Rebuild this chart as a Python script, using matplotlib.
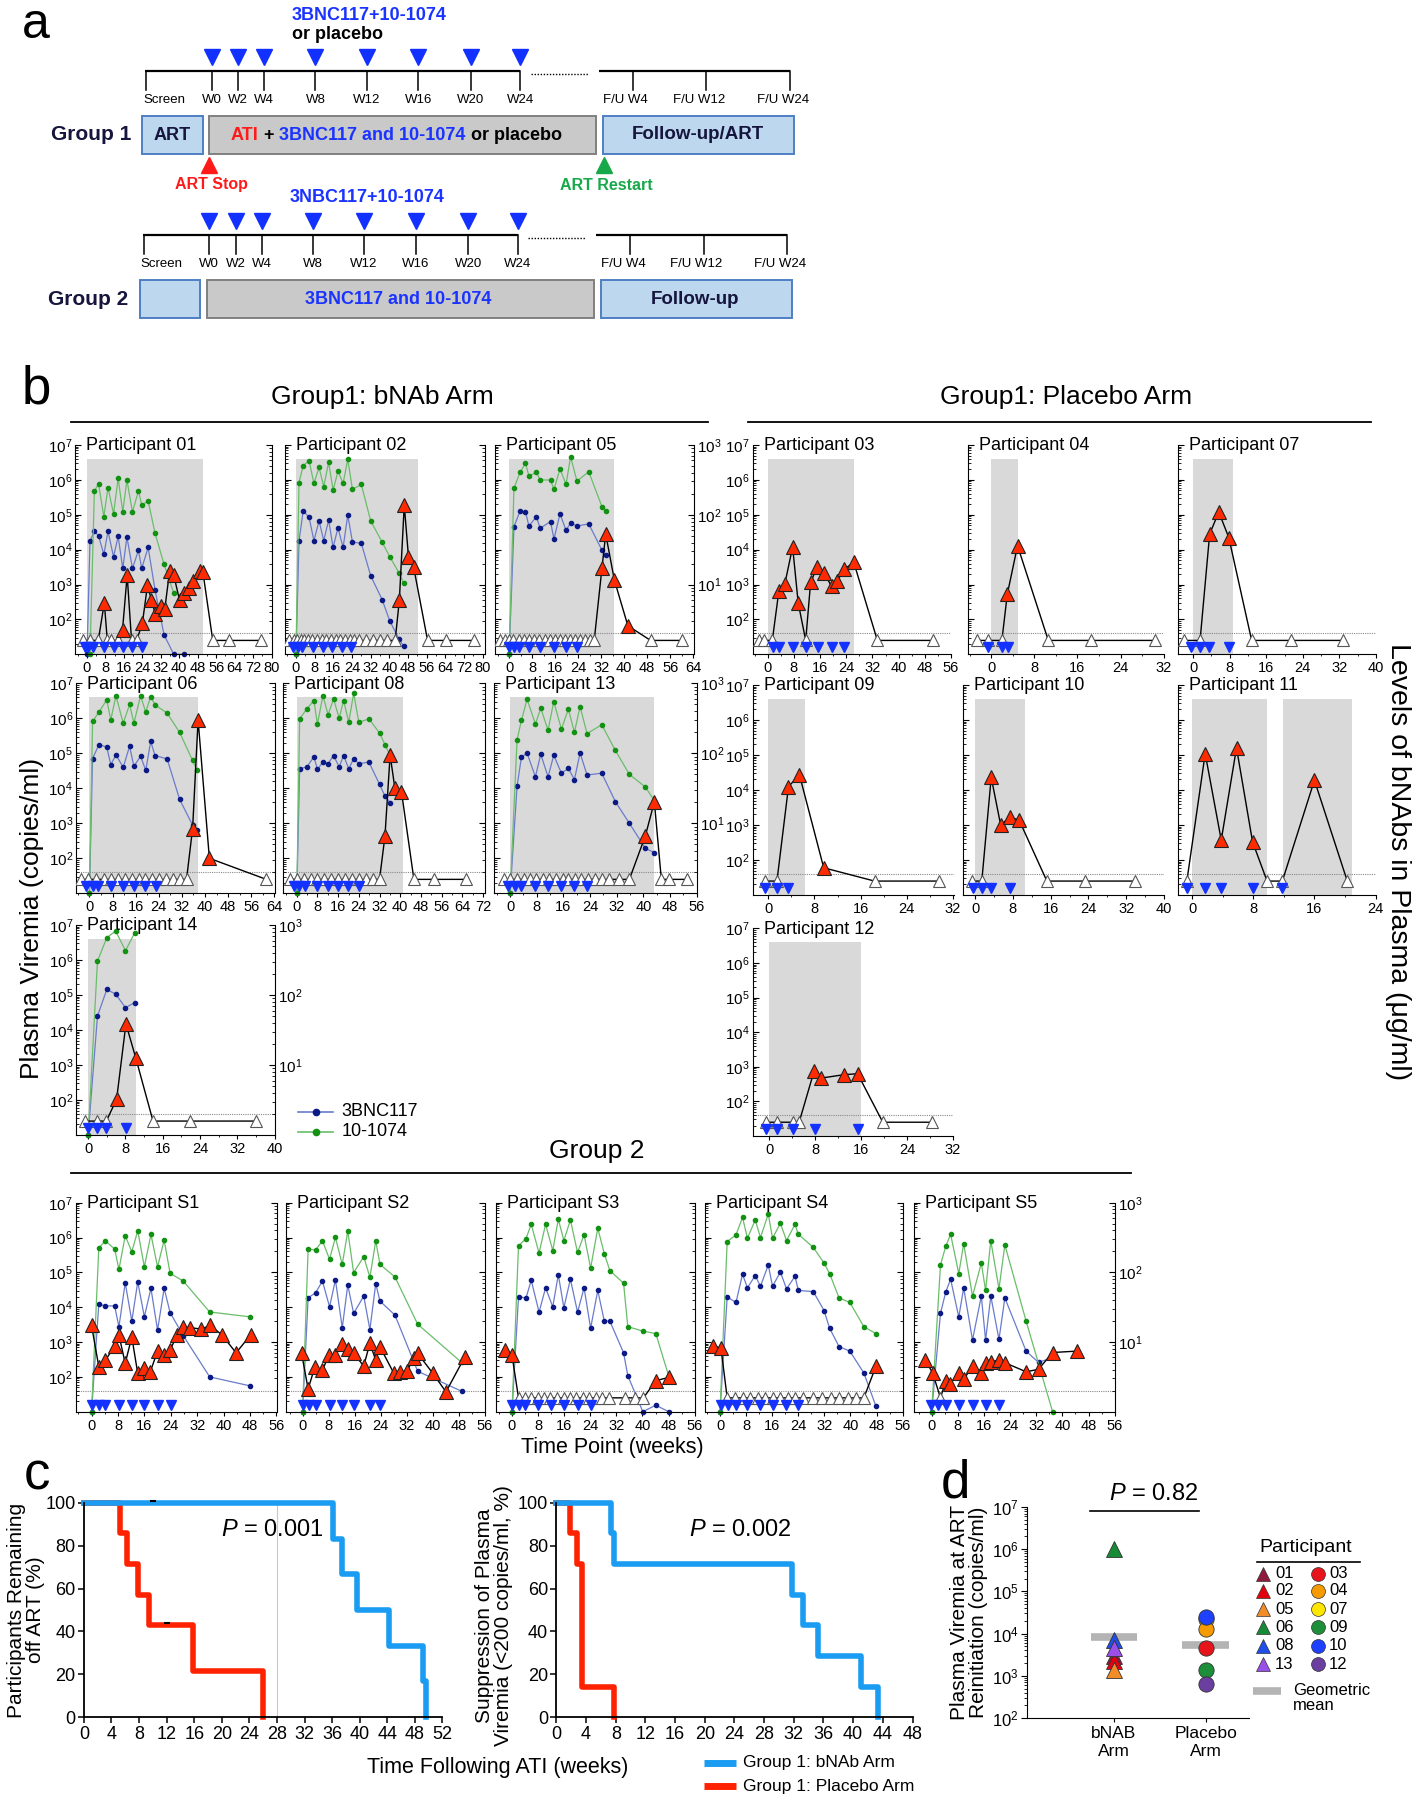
import numpy as np
import matplotlib.pyplot as plt
from matplotlib.ticker import FixedLocator, LogLocator, NullFormatter, MultipleLocator, FuncFormatter
from matplotlib.patches import Rectangle

plt.rcParams['font.family'] = ['Liberation Sans', 'DejaVu Sans']
plt.rcParams['mathtext.fontset'] = 'custom'
plt.rcParams['mathtext.rm'] = 'Liberation Sans'
plt.rcParams['mathtext.it'] = 'Liberation Sans:italic'
plt.rcParams['mathtext.bf'] = 'Liberation Sans:bold'

nan = np.nan

# ---------------- panel b data (weeks, copies/ml; 0 = undetectable) ----------------
# bNAb levels in ug/ml (3BNC117 / 10-1074)
p01_t = [-1.6, 1.3, 4.9, 7.5, 8.8, 10.6, 13.5, 15.4, 17.4, 19.3, 21.5, 24, 26.2, 27.9, 29.6, 31.9, 33.7, 35.8,
         37.6, 40.1, 41.9, 44.2, 45.9, 48.8, 50.2, 54.5, 61.7, 75.4]
p01_vl = [0, 0, 0, 300, 0, 0, 0, 51, 1860, 0, 0, 78, 940, 370, 140, 240, 195, 2450, 1860, 355, 560, 780, 1300,
          2500, 2350, 0, 0, 0]
p01_inf = [-1, 0.6, 2.7, 7.5, 11.7, 15.7, 19.7, 23.7]
p01_ati = [(0, 50.1)]
p01_bt = [0, 1.3, 3.2, 5.0, 7.3, 9.1, 11.5, 13.5, 15.5, 17.3, 19.7, 22.3, 23.7, 26.5, 29.5, 33.4, 37.6, 41.9]
p01_3bnc = [1, 42, 58, 50, 27, 58, 25, 49, 17, 48, 17, 31, 17, 34, 8.3, 1.9, 1, 1]
p01_10 = [nan, 1, 219, 276, 94, 245, 103, 333, 110, 315, 110, 219, 138, 158, 54, 19.5, 7.5, nan]

p02_t = [-3, -1, 0.5, 2, 3.5, 5, 7, 9, 11, 13, 15, 17, 19, 21, 23, 25, 27, 30, 33, 36, 39, 42.5, 44.3, 46.4,
         48.2, 50.4, 56.4, 64.4, 76.5]
p02_vl = [0, 0, 0, 0, 0, 0, 0, 0, 0, 0, 0, 0, 0, 0, 0, 0, 0, 0, 0, 0, 0, 0, 355, 190000, 6300, 3200, 0, 0, 0]
p02_inf = [-1.1, 1.0, 2.4, 7.4, 11.4, 15.6, 19.7, 23.7]
p02_ati = [(0, 52.2)]
p02_bt = [0, 1.3, 3.1, 5.6, 7.7, 9.9, 11.9, 14.0, 15.9, 18.0, 20.2, 22.2, 24.2, 28.0, 32.0, 36.9, 40.2, 44.2, 46.2]
p02_3bnc = [1, 42, 114, 92, 42.5, 82, 42.5, 84, 34, 65, 34, 99, 40.6, 39, 13.4, 6.1, 3.0, 1.65, 1.3]
p02_10 = [1, 290, 505, 595, 282, 478, 253, 565, 226, 419, 282, 623, 231, 272, 82, 40.6, 25, 14.6, 10.4]

p05_t = [-3.1, -1.4, 0, 1.5, 3.6, 5.3, 6.9, 8.7, 10.5, 12.5, 14.2, 15.9, 17.7, 19.4, 21.2, 22.9, 24.7, 26.4,
         28.1, 29.6, 32.3, 33.6, 36.6, 41.3, 49.2, 60.3]
p05_vl = [0, 0, 0, 0, 0, 0, 0, 0, 0, 0, 0, 0, 0, 0, 0, 0, 0, 0, 0, 0, 3000, 28000, 1350, 66, 0, 0]
p05_inf = [0, 1.7, 3.6, 6.9, 10.8, 15.7, 19.8, 23.7]
p05_ati = [(0, 36.6)]
p05_bt = [0, 1.7, 3.8, 5.7, 6.9, 9.5, 10.8, 14.4, 15.6, 17.7, 19.8, 21.4, 23.6, 27.7, 32.3, 33.6]
p05_3bnc = [1, 67.5, 113, 110, 69, 94, 64, 80, 45, 103, 60, 76, 69, 74, 31, 26.5]
p05_10 = [1, 240, 405, 546, 359, 405, 315, 315, 231, 453, 273, 680, 304, 414, 130, 113]

p03_t = [-2.7, -1.0, 1.4, 3.4, 5.2, 7.6, 9.3, 11.6, 13.1, 15.1, 17.2, 19.5, 21.3, 23.2, 26.3, 33.5, 50.5]
p03_vl = [0, 0, 0, 660, 1020, 12000, 300, 0, 1150, 3200, 2200, 880, 1260, 2700, 4300, 0, 0]
p03_inf = [1.5, 3.5, 7.6, 11.6, 15.4, 19.5, 23.2]
p03_ati = [(0, 26.3)]

p04_t = [-2.6, -0.6, 2.0, 3.0, 4.9, 10.6, 18.5, 30.3]
p04_vl = [0, 0, 0, 525, 13000, 0, 0, 0]
p04_inf = [-0.5, 2.0, 3.1]
p04_ati = [(0, 4.9)]

p07_t = [-2.0, 1.5, 3.6, 5.6, 7.8, 12.8, 21.5, 32.7]
p07_vl = [0, 0, 28000, 120000, 22000, 0, 0, 0]
p07_inf = [-0.5, 1.5, 3.4, 7.8]
p07_ati = [(0, 8.8)]

p06_t = [-2.9, -0.5, 2.2, 5.1, 7.4, 9.8, 12.2, 14.6, 17.0, 19.3, 21.7, 24.1, 26.5, 28.8, 31.2, 33.6, 35.7,
         37.6, 41.5, 61.2]
p06_vl = [0, 0, 0, 0, 0, 0, 0, 0, 0, 0, 0, 0, 0, 0, 0, 0, 710, 900000, 100, 0]
p06_inf = [-1.3, 1.1, 3.0, 7.4, 11.7, 15.4, 19.3, 23.0]
p06_ati = [(0, 37.6)]
p06_bt = [0, 1.1, 3.3, 6.0, 7.4, 9.2, 11.7, 13.9, 15.4, 17.7, 19.5, 21.2, 22.7, 26.9, 31.2, 35.7, 37.2]
p06_3bnc = [1, 84, 133, 123, 69, 95, 63, 126, 65, 91, 57, 148, 93, 83, 22, 9.4, 8.0]
p06_10 = [1, 285, 387, 580, 301, 661, 270, 498, 270, 661, 387, 647, 492, 375, 199, 79, 57]

p08_t = [-2.7, 0, 2.7, 5.3, 8, 10.7, 13.3, 16, 18.7, 21.3, 24, 26.7, 29.3, 32, 34.1, 36.1, 37.9, 40.5, 45.3,
         53, 65.4]
p08_vl = [0, 0, 0, 0, 0, 0, 0, 0, 0, 0, 0, 0, 0, 0, 430, 89000, 10500, 7900, 0, 0, 0]
p08_inf = [-0.9, 0.9, 3.2, 8.0, 12.1, 16.0, 19.9, 24.0]
p08_ati = [(0, 41.2)]
p08_bt = [0, 1.1, 3.9, 6.6, 8.0, 10.1, 12.1, 14.2, 16.4, 18.1, 20.1, 22.0, 24.0, 27.9, 32.0, 34.1, 36.1]
p08_3bnc = [1, 60, 64, 89, 59, 75, 71, 93, 64, 93, 60, 84, 71, 75, 36, 24.5, 19.8]
p08_10 = [1, 311, 432, 567, 262, 668, 355, 598, 318, 567, 279, 721, 276, 311, 195, 133, 93]

p13_t = [-1.8, 0, 2.1, 4.1, 5.9, 7.8, 9.9, 11.7, 13.8, 15.8, 17.5, 19.5, 21.3, 23.4, 25.4, 27.5, 29.8, 32.6,
         35.8, 40.6, 43.3, 45.4, 47.7, 53.2]
p13_vl = [0, 0, 0, 0, 0, 0, 0, 0, 0, 0, 0, 0, 0, 0, 0, 0, 0, 0, 0, 440, 4100, 0, 0, 0]
p13_inf = [-0.7, 1.4, 3.4, 7.6, 11.4, 15.4, 19.3, 23.1]
p13_ati = [(0, 43.3)]
p13_bt = [0, 2.1, 3.4, 5.1, 7.6, 9.2, 11.4, 13.1, 15.4, 17.5, 19.3, 21.0, 23.1, 27.5, 31.6, 35.8, 40.6, 43.3]
p13_3bnc = [1, 34, 88, 101, 46, 97, 46, 94, 52, 61, 42, 101, 49, 52, 20.4, 10, 4.4, 3.8]
p13_10 = [1, 157, 295, 592, 262, 441, 213, 549, 222, 427, 199, 466, 191, 256, 110, 50, 33, 21]

p09_t = [-0.5, 1.5, 3.5, 5.4, 9.6, 18.4, 29.5]
p09_vl = [0, 0, 12500, 27000, 60, 0, 0]
p09_inf = [-0.5, 1.5, 3.5]
p09_ati = [(0, 6.3)]

p10_t = [-0.7, 1.4, 3.4, 5.4, 7.3, 9.3, 15.2, 23.2, 33.8]
p10_vl = [0, 0, 23000, 1000, 1650, 1400, 0, 0, 0]
p10_inf = [-0.5, 1.4, 3.4, 7.3]
p10_ati = [(0, 10.5)]

p11_t = [-0.7, 1.7, 3.8, 5.8, 7.9, 9.8, 11.8, 16.0, 20.3]
p11_vl = [0, 110000, 370, 160000, 330, 0, 0, 19000, 0]
p11_inf = [-0.7, 1.7, 3.8, 7.9, 11.8]
p11_ati = [(0, 9.8), (11.9, 20.9)]

p14_t = [-0.6, 2.0, 3.9, 6.1, 8.1, 10.2, 13.9, 21.9, 35.9]
p14_vl = [0, 0, 0, 105, 15000, 1600, 0, 0, 0]
p14_inf = [0, 2.0, 3.9, 8.1]
p14_ati = [(0, 10.3)]
p14_bt = [0, 2.0, 4.0, 5.9, 8.0, 10.0]
p14_3bnc = [1, 50, 120, 103, 66, 78]
p14_10 = [1, 305, 659, 820, 430, 776]

p12_t = [-0.6, 1.4, 4.2, 5.2, 7.8, 9.0, 13.0, 15.4, 19.8, 28.4]
p12_vl = [0, 0, 0, 0, 740, 470, 590, 630, 0, 0]
p12_inf = [-0.6, 1.4, 4.2, 7.9, 15.4]
p12_ati = [(0, 16.0)]

s1_t = [0, 2.2, 4.2, 7.0, 8.3, 10.2, 12.2, 14.0, 16.0, 17.8, 20.0, 22.0, 23.8, 25.9, 27.8, 29.8, 33.2, 36.0,
        39.5, 43.8, 48.2]
s1_vl = [3000, 195, 300, 760, 1580, 245, 1400, 125, 183, 140, 550, 420, 585, 1580, 2700, 2600, 2350, 3000,
         1600, 490, 1600]
s1_inf = [0, 2.2, 4.2, 8.3, 12.3, 16.0, 20.0, 24.0]
s1_bt = [0, 2.2, 4.2, 7.0, 8.3, 10.2, 12.2, 14.0, 16.0, 18.0, 20.0, 22.0, 23.8, 27.8, 35.8, 48.0]
s1_3bnc = [1, 35, 33, 33, 16.5, 71, 20, 73, 23, 59, 14.8, 59, 26.5, 12.3, 3.16, 2.35]
s1_10 = [1, 225, 284, 216, 110, 336, 198, 396, 120, 351, 120, 291, 97, 75, 27, 23]

s2_t = [-0.3, 1.7, 3.8, 6.1, 8.1, 10.1, 12.2, 13.9, 15.7, 18.8, 20.7, 22.5, 23.8, 28.1, 29.9, 32.1, 34.2,
        35.4, 40.1, 44.1, 49.9]
s2_vl = [470, 45, 195, 155, 420, 420, 870, 650, 470, 205, 920, 300, 730, 125, 140, 145, 350, 470, 125, 37, 375]
s2_inf = [0, 1.9, 4.0, 8.3, 12.2, 15.9, 20.7, 23.8]
s2_bt = [0, 1.7, 4.0, 6.1, 8.3, 10.1, 12.2, 13.9, 15.7, 18.8, 20.7, 22.5, 23.8, 28.4, 35.4, 48.9]
s2_3bnc = [1, 43, 51, 75, 32, 78, 16, 66, 25.7, 45.6, 15.1, 69, 38.7, 24.4, 3.8, 1.97]
s2_10 = [1, 216, 209, 283, 154, 318, 130, 392, 99, 168, 85, 283, 130, 86, 18, 5.1]

s3_t = [-2.0, 0, 2.0, 3.9, 5.9, 7.9, 9.9, 11.8, 13.8, 15.8, 17.8, 19.7, 21.7, 23.7, 25.7, 27.6, 29.7, 34.6,
        37.6, 40.3, 44.1, 48.0]
s3_vl = [575, 420, 0, 0, 0, 0, 0, 0, 0, 0, 0, 0, 0, 0, 0, 0, 0, 0, 0, 0, 78, 96]
s3_inf = [0, 2.0, 3.9, 7.9, 12.0, 15.9, 20.1, 24.1]
s3_bt = [0, 2.0, 4.3, 5.9, 8.3, 10.3, 12.5, 14.2, 15.9, 17.9, 20.1, 22.1, 24.1, 26.3, 28.3, 30.0, 34.2, 35.5,
         40.1, 44.1, 48.0]
s3_3bnc = [1, 44.5, 43, 77, 26.8, 60, 32, 93, 31, 80, 26.8, 60, 15.8, 55, 20, 20, 7.0, 3.3, 1, 1.24, 1]
s3_10 = [1, 240, 306, 490, 189, 490, 206, 578, 286, 565, 193, 346, 115, 430, 185, 106, 70, 16.6, 14.4, 13.2, 3.3]

s4_t = [-2.0, 0.3, 2.2, 4.6, 6.9, 9.2, 11.5, 13.9, 16.1, 18.5, 20.7, 23.0, 25.3, 28.6, 31.3, 33.9, 36.5, 39.2,
        41.8, 44.1, 47.8]
s4_vl = [775, 665, 0, 0, 0, 0, 0, 0, 0, 0, 0, 0, 0, 0, 0, 0, 0, 0, 0, 0, 200]
s4_inf = [0.3, 2.5, 4.9, 8.4, 12.4, 16.1, 20.3, 24.0]
s4_bt = [0, 2.2, 4.9, 6.9, 8.4, 10.8, 12.4, 14.8, 16.1, 18.5, 20.4, 23.0, 24.0, 28.6, 31.9, 33.6, 36.5, 39.8,
         44.1, 47.8]
s4_3bnc = [1, 44.5, 37, 94, 60, 90, 63, 128, 63, 101, 58, 88, 55, 53, 28.3, 15.8, 8.6, 7.4, 3.6, 1.2]
s4_10 = [1, 277, 345, 617, 309, 565, 316, 689, 309, 506, 286, 490, 353, 228, 136, 96, 43, 37, 16.6, 13.2]

s5_t = [-2.0, 0.3, 2.7, 4.3, 5.6, 8.3, 9.8, 12.5, 15.2, 16.5, 18.1, 20.6, 22.4, 28.9, 32.7, 37.0, 44.6]
s5_vl = [310, 130, 0, 74, 62, 130, 85, 200, 129, 255, 275, 300, 255, 140, 165, 500, 550]
s5_inf = [-0.3, 2.0, 4.3, 8.5, 12.5, 16.5, 20.6]
s5_bt = [0, 2.7, 4.3, 5.8, 8.3, 9.8, 12.5, 15.2, 16.5, 18.1, 20.6, 22.4, 28.9, 32.7, 37.0]
s5_3bnc = [1, 25.7, 52, 80, 22.8, 60, 10.7, 45.6, 10.7, 45.6, 10.9, 43, 7.4, 5.1, 6.0]
s5_10 = [1, 128, 236, 353, 96, 257, 45.6, 136, 55, 284, 58, 248, 20, nan, 1]

# ---------------- panel c data (Kaplan-Meier steps) ----------------
km1_bnab_t = [0, 36.2, 37.5, 39.6, 44.2, 49.2, 49.6]
km1_bnab_s = [100, 83.3, 66.7, 50, 33.3, 16.7, 0]
km1_pla_t = [0, 5.2, 6.3, 7.8, 9.4, 15.8, 26.0]
km1_pla_s = [100, 85.7, 71.4, 57.1, 42.9, 21.4, 0]
km1_censor = [(10, 100), (12, 42.9)]
km2_bnab_t = [0, 7.3, 7.8, 31.8, 33.3, 35.3, 41.0, 43.4]
km2_bnab_s = [100, 85.7, 71.4, 57.1, 42.9, 28.6, 14.3, 0]
km2_pla_t = [0, 1.8, 2.8, 3.4, 7.8]
km2_pla_s = [100, 85.7, 71.4, 14.3, 0]

# ---------------- panel d data ----------------
d_bnab_ids = ['01', '02', '05', '06', '08', '13']
d_bnab_vl = [3000, 2200, 1400, 1000000, 7000, 4500]
d_bnab_col = ['#8e1b3c', '#e3000f', '#f28c28', '#178a36', '#1f4ee8', '#9a4fe8']
d_pla_ids = ['03', '04', '07', '09', '10', '12']
d_pla_vl = [4500, 13000, 22000, 1400, 25000, 650]
d_pla_col = ['#e8141c', '#f59a00', '#ffe600', '#1d8f3a', '#1e40ff', '#6b3fa0']
d_gmean = [8500, 5500]

# ---------------- figure ----------------
W, H = 1414, 1800
fig = plt.figure(figsize=(W / 100, H / 100), dpi=100)
ov = fig.add_axes([0, 0, 1, 1])
ov.set_xlim(0, W)
ov.set_ylim(H, 0)
ov.axis('off')
ov.set_zorder(5)


def px_axes(x0, y0, x1, y1):
    return fig.add_axes([x0 / W, 1 - y1 / H, (x1 - x0) / W, (y1 - y0) / H])


def pow_fmt(v, pos):
    return r'$10^{%d}$' % round(np.log10(v))


BLUE_TXT = '#1a33ff'
NAVY = '#15153d'

# ---------------- panel a ----------------
ov.text(22, 37.5, 'a', fontsize=36, va='baseline')
wk_lab = ['Screen', 'W0', 'W2', 'W4', 'W8', 'W12', 'W16', 'W20', 'W24']
fu_lab = ['F/U W4', 'F/U W12', 'F/U W24']
wk_x = [146.4, 211.8, 238.0, 264.1, 315.4, 366.6, 418.4, 470.7, 520.4]
fu_x = [632.8, 706.0, 789.7]
for g, (dy, dx) in enumerate([(0, 0), (164.3, -2.5)]):
    yl = 70.7 + dy
    ov.plot([wk_x[0] - 1 + dx, wk_x[-1] + dx], [yl, yl], color='k', lw=1.6, solid_capstyle='butt')
    ov.plot([530.9 + dx, 588.4 + dx], [yl + 3, yl + 3], color='k', lw=1.0, ls=(0, (1, 1.2)))
    ov.plot([598.8 + dx, fu_x[-1] + dx], [yl, yl], color='k', lw=1.6, solid_capstyle='butt')
    for x, lab in zip(wk_x + fu_x, wk_lab + fu_lab):
        ov.plot([x + dx, x + dx], [yl, yl + 19.3], color='k', lw=1.1)
        ov.text(x + dx + (18 if lab == 'Screen' else 0) - (7 if lab.startswith('F/U') else 0), yl + 29, lab,
                fontsize=9.5, ha='center', va='center')
    ov.plot([x + dx for x in wk_x[1:]], [yl - 14] * 8, 'v', color='#1230ff', ms=12, mec='#1230ff')
    yb0, yb1 = 115.7 + dy, 154 + dy
    ov.add_patch(Rectangle((142.3 + dx, yb0), 60.6, yb1 - yb0, fc='#bdd7ee', ec='#4f7fc4', lw=1.4))
    ov.add_patch(Rectangle((209.2 + dx, yb0), 387, yb1 - yb0, fc='#c9c9c9', ec='#808080', lw=1.4))
    ov.add_patch(Rectangle((603 + dx, yb0), 191, yb1 - yb0, fc='#bdd7ee', ec='#4f7fc4', lw=1.4))
    ym = (yb0 + yb1) / 2
    ov.text(91 + dx, ym, 'Group %d' % (g + 1), fontsize=15, fontweight='bold', color=NAVY, ha='center',
            va='center')
    ov.text(698 + dx, ym, 'Follow-up/ART' if g == 0 else 'Follow-up', fontsize=13.5, fontweight='bold',
            color=NAVY, ha='center', va='center')

ov.text(291.8, 15, '3BNC117+10-1074', fontsize=13, fontweight='bold', color=BLUE_TXT, va='center')
ov.text(291.8, 34.3, 'or placebo', fontsize=13, fontweight='bold', color='k', va='center')
ov.text(289.3, 197.3, '3NBC117+10-1074', fontsize=13, fontweight='bold', color=BLUE_TXT, va='center')
ov.text(172.6, 135, 'ART', fontsize=13, fontweight='bold', color=NAVY, ha='center', va='center')
ov.text(398.5, 299, '3BNC117 and 10-1074', fontsize=13, fontweight='bold', color=BLUE_TXT, ha='center',
        va='center')

parts = [('ATI', '#ff1a1a'), (' + ', 'k'), ('3BNC117 and 10-1074', BLUE_TXT), (' or placebo', 'k')]
t = ov.text(231, 135, parts[0][0], color=parts[0][1], fontsize=13, fontweight='bold', va='center')
for s, c in parts[1:]:
    t = ov.annotate(s, xy=(1, 0), xycoords=t, va='bottom', ha='left', color=c, fontsize=13,
                    fontweight='bold')

ov.plot(209.2, 165, '^', color='#ff1a1a', ms=12)
ov.text(211.8, 185, 'ART Stop', color='#ff1a1a', fontsize=11.5, fontweight='bold', ha='center', va='center')
ov.plot(604, 165, '^', color='#17a84a', ms=12)
ov.text(606.7, 185, 'ART Restart', color='#17a84a', fontsize=11.5, fontweight='bold', ha='center',
        va='center')

# ---------------- panel b ----------------
UNDET, INF_Y, LOD, ATI_TOP = 25, 16, 40, 4e6


def viremia_panel(box, xlim, title, t, vl, inf, ati, bt=None, b3=None, b10=None,
                  left_lab=True, right=False, right_lab=False):
    x0, y0, x1, y1 = box
    ax = px_axes(*box)
    ax.set_yscale('log')
    ax.set_ylim(10, 1e7)
    ax.set_xlim(*xlim)
    for a, b in ati:
        ax.fill_between([a, b], 10, ATI_TOP, color='#d9d9d9', lw=0, zorder=0)
    ax.axhline(LOD, color='#8a8a8a', lw=0.8, ls=(0, (1, 1)), zorder=1)
    if bt is not None:
        tt = np.asarray(bt, float)
        for vals, lc, mc in ((b3, '#6a7bcc', '#0b1985'), (b10, '#6abd6a', '#129112')):
            vv = np.asarray(vals, float)
            m = ~np.isnan(vv)
            ax.plot(tt[m], 10 * vv[m] ** 2, '-o', color=lc, lw=0.9, ms=3, mfc=mc, mec=mc,
                    clip_on=False, zorder=2)
    tv = np.asarray(t, float)
    v = np.asarray(vl, float)
    y = np.where(v > 0, v, UNDET)
    det = v > 0
    ax.plot(tv, y, color='k', lw=1.0, zorder=3)
    ax.plot(tv[~det], y[~det], '^', ms=8.5, mfc='white', mec='#555555', mew=0.8, zorder=4, ls='none')
    ax.plot(tv[det], y[det], '^', ms=9.5, mfc='#ff2a00', mec='#222222', mew=0.8, zorder=5, ls='none')
    ax.plot(inf, [INF_Y] * len(inf), 'v', ms=6.5, color='#1432ff', zorder=4, ls='none')

    ax.spines['top'].set_visible(False)
    ax.spines['right'].set_visible(False)
    ax.yaxis.set_major_locator(FixedLocator([1e2, 1e3, 1e4, 1e5, 1e6, 1e7]))
    ax.yaxis.set_minor_locator(LogLocator(base=10, subs=np.arange(2, 10), numticks=20))
    ax.yaxis.set_major_formatter(FuncFormatter(pow_fmt))
    ax.yaxis.set_minor_formatter(NullFormatter())
    ax.xaxis.set_major_locator(MultipleLocator(8))
    ax.xaxis.set_minor_locator(MultipleLocator(4))
    ax.tick_params(axis='y', which='major', direction='in', length=4, width=0.8, labelsize=11,
                   labelleft=left_lab, pad=2)
    ax.tick_params(axis='y', which='minor', direction='in', length=2, width=0.6)
    ax.tick_params(axis='x', which='major', direction='out', length=3, width=0.8, labelsize=10.5, pad=2)
    ax.tick_params(axis='x', which='minor', direction='out', length=1.5, width=0.6)
    if right:
        tw = ax.twinx()
        tw.set_yscale('log')
        tw.set_ylim(1, 1000)
        tw.yaxis.set_major_locator(FixedLocator([10, 100, 1000]))
        tw.yaxis.set_minor_locator(LogLocator(base=10, subs=np.arange(2, 10), numticks=20))
        tw.yaxis.set_major_formatter(FuncFormatter(pow_fmt))
        tw.yaxis.set_minor_formatter(NullFormatter())
        tw.tick_params(axis='y', which='major', direction='in', length=4, width=0.8, labelsize=11,
                       labelright=right_lab, pad=2)
        tw.tick_params(axis='y', which='minor', direction='in', length=2, width=0.6)
        for s in ('top', 'left', 'bottom'):
            tw.spines[s].set_visible(False)
    ov.text(x0 + 11, y0 + 1, title, fontsize=13, ha='left', va='center')
    return ax


panels = [
    ((75, 445, 272.3, 654.3), (-5.2, 80.3), '01', p01_t, p01_vl, p01_inf, p01_ati, p01_bt, p01_3bnc, p01_10, True, False),
    ((285, 445, 485, 654.3), (-4.7, 81), '02', p02_t, p02_vl, p02_inf, p02_ati, p02_bt, p02_3bnc, p02_10, False, False),
    ((495, 445, 694, 654.3), (-4.9, 64.3), '05', p05_t, p05_vl, p05_inf, p05_ati, p05_bt, p05_3bnc, p05_10, False, True),
    ((752.7, 445, 951.3, 654.3), (-4.6, 56.1), '03', p03_t, p03_vl, p03_inf, p03_ati, None, None, None, True, False),
    ((967.9, 445, 1164.3, 654.3), (-4.3, 32.1), '04', p04_t, p04_vl, p04_inf, p04_ati, None, None, None, False, False),
    ((1177.7, 445, 1376.3, 654.3), (-3.4, 40.1), '07', p07_t, p07_vl, p07_inf, p07_ati, None, None, None, False, False),
    ((75.8, 683.3, 275, 893.3), (-4.7, 64.2), '06', p06_t, p06_vl, p06_inf, p06_ati, p06_bt, p06_3bnc, p06_10, True, False),
    ((283.1, 683.3, 485, 893.3), (-5.3, 72.8), '08', p08_t, p08_vl, p08_inf, p08_ati, p08_bt, p08_3bnc, p08_10, False, False),
    ((494.1, 683.3, 697, 893.3), (-4.8, 56.1), '13', p13_t, p13_vl, p13_inf, p13_ati, p13_bt, p13_3bnc, p13_10, False, True),
    ((752.7, 685, 953.6, 895), (-2.7, 32.1), '09', p09_t, p09_vl, p09_inf, p09_ati, None, None, None, True, False),
    ((963.4, 685, 1164.3, 895), (-2.5, 40.1), '10', p10_t, p10_vl, p10_inf, p10_ati, None, None, None, False, False),
    ((1177.7, 685, 1376.3, 895), (-1.9, 24.1), '11', p11_t, p11_vl, p11_inf, p11_ati, None, None, None, False, False),
    ((76, 925, 275.3, 1135), (-2.6, 40.1), '14', p14_t, p14_vl, p14_inf, p14_ati, p14_bt, p14_3bnc, p14_10, True, True),
    ((752.7, 928.3, 953.3, 1136), (-2.9, 32.1), '12', p12_t, p12_vl, p12_inf, p12_ati, None, None, None, True, False),
    ((75.7, 1202.7, 276.7, 1411.7), (-4.8, 56.1), 'S1', s1_t, s1_vl, s1_inf, [], s1_bt, s1_3bnc, s1_10, True, False),
    ((286, 1202.7, 485, 1411.7), (-5.1, 56.1), 'S2', s2_t, s2_vl, s2_inf, [], s2_bt, s2_3bnc, s2_10, False, False),
    ((496, 1202.7, 695, 1411.7), (-4.9, 56.1), 'S3', s3_t, s3_vl, s3_inf, [], s3_bt, s3_3bnc, s3_10, False, False),
    ((705, 1202.7, 903, 1411.7), (-4.6, 56.1), 'S4', s4_t, s4_vl, s4_inf, [], s4_bt, s4_3bnc, s4_10, False, False),
    ((914, 1202.7, 1115, 1411.7), (-5.4, 56.1), 'S5', s5_t, s5_vl, s5_inf, [], s5_bt, s5_3bnc, s5_10, False, True),
]
for box, xl, pid, t_, vl_, inf_, ati_, bt_, b3_, b10_, ll, rl in panels:
    viremia_panel(box, xl, 'Participant ' + pid, t_, vl_, inf_, ati_, bt_, b3_, b10_,
                  left_lab=ll, right=bt_ is not None, right_lab=rl)

ov.text(22, 404, 'b', fontsize=38, va='baseline')
ov.text(382, 397, 'Group1: bNAb Arm', fontsize=19, ha='center', va='center')
ov.plot([71, 708], [422, 422], color='k', lw=1.3)
ov.text(1066, 397, 'Group1: Placebo Arm', fontsize=19, ha='center', va='center')
ov.plot([748, 1371], [422, 422], color='k', lw=1.3)
ov.text(597, 1151, 'Group 2', fontsize=19, ha='center', va='center')
ov.plot([71, 1131], [1173, 1173], color='k', lw=1.3)
ov.text(32, 918, 'Plasma Viremia (copies/ml)', fontsize=19, rotation=90, ha='center', va='center')
ov.text(1398, 862, 'Levels of bNAbs in Plasma (\u03bcg/ml)', fontsize=20.5, rotation=270, ha='center',
        va='center')
ov.text(612, 1448, 'Time Point (weeks)', fontsize=15.5, ha='center', va='center')
for yy, lc, mc, lab in ((1112, '#6a7bcc', '#0b1985', '3BNC117'), (1132, '#6abd6a', '#129112', '10-1074')):
    ov.plot([298, 333], [yy, yy], color=lc, lw=1.2)
    ov.plot(316, yy, 'o', color=mc, ms=4.5)
    ov.text(341.7, yy, lab, fontsize=13, va='center')

# ---------------- panel c ----------------
KM_BLUE, KM_RED = '#1a9cf2', '#ff2200'


def km_axes(box, xmax):
    ax = px_axes(*box)
    ax.set_xlim(0, xmax)
    ax.set_ylim(0, 100)
    ax.spines['top'].set_visible(False)
    ax.spines['right'].set_visible(False)
    ax.spines['left'].set_linewidth(1.3)
    ax.spines['bottom'].set_linewidth(1.3)
    ax.xaxis.set_major_locator(MultipleLocator(4))
    ax.yaxis.set_major_locator(MultipleLocator(20))
    ax.tick_params(labelsize=13, direction='out', length=4, width=1.1, pad=2)
    return ax


axc1 = km_axes((83.9, 1502.7, 442.4, 1717.3), 52)
axc1.axvline(28, color='#c8c8c8', lw=0.8, zorder=0)
axc1.plot(km1_pla_t, km1_pla_s, drawstyle='steps-post', color=KM_RED, lw=4, clip_on=False)
axc1.plot(km1_bnab_t, km1_bnab_s, drawstyle='steps-post', color=KM_BLUE, lw=4, clip_on=False)
for cx, cy in km1_censor:
    axc1.plot(cx, cy + 1, marker='_', color='k', ms=4, mew=1.5, clip_on=False)

axc2 = km_axes((556.4, 1502.7, 912.5, 1717.3), 48)
axc2.plot(km2_pla_t, km2_pla_s, drawstyle='steps-post', color=KM_RED, lw=4, clip_on=False)
axc2.plot(km2_bnab_t, km2_bnab_s, drawstyle='steps-post', color=KM_BLUE, lw=4, clip_on=False)

ov.text(26, 1610, 'Participants Remaining\noff ART (%)', fontsize=15, rotation=90, ha='center',
        va='center', multialignment='center', linespacing=1.05)
ov.text(494, 1616, 'Suppression of Plasma\nViremia (<200 copies/ml, %)', fontsize=15, rotation=90,
        ha='center', va='center', multialignment='center', linespacing=1.05)
ov.text(24, 1490, 'c', fontsize=38, va='baseline')
ov.text(272.8, 1530, r'$P$ = 0.001', fontsize=17, ha='center', va='center')
ov.text(740, 1530, r'$P$ = 0.002', fontsize=17, ha='center', va='center')
ov.text(497.6, 1768, 'Time Following ATI (weeks)', fontsize=15.5, ha='center', va='center')
for yy, c, lab in ((1762.7, KM_BLUE, 'Group 1: bNAb Arm'), (1786, KM_RED, 'Group 1: Placebo Arm')):
    ov.plot([704, 736], [yy, yy], color=c, lw=5, solid_capstyle='butt')
    ov.text(743, yy, lab, fontsize=12.5, va='center')

# ---------------- panel d ----------------
axd = px_axes(1027, 1507, 1249, 1718)
axd.set_yscale('log')
axd.set_ylim(100, 1e7)
axd.set_xlim(0, 2.3)
cat_x = [0.9, 1.85]
for x, g in zip(cat_x, d_gmean):
    axd.plot([x - 0.24, x + 0.24], [g, g], color='#b4b4b4', lw=5.5, solid_capstyle='butt', zorder=1)
for v, c in zip(d_bnab_vl, d_bnab_col):
    axd.plot(cat_x[0], v, '^', ms=12, mfc=c, mec='#333333', mew=0.6, zorder=3)
order = [2, 0, 1, 3, 4, 5]
for i in order:
    axd.plot(cat_x[1], d_pla_vl[i], 'o', ms=11, mfc=d_pla_col[i], mec='#333333', mew=0.6, zorder=3)
axd.spines['top'].set_visible(False)
axd.spines['right'].set_visible(False)
axd.yaxis.set_major_locator(FixedLocator([1e2, 1e3, 1e4, 1e5, 1e6, 1e7]))
axd.yaxis.set_minor_locator(LogLocator(base=10, subs=np.arange(2, 10), numticks=20))
axd.yaxis.set_major_formatter(FuncFormatter(pow_fmt))
axd.yaxis.set_minor_formatter(NullFormatter())
axd.set_xticks(cat_x)
axd.set_xticklabels(['bNAB\nArm', 'Placebo\nArm'])
axd.tick_params(axis='y', which='major', labelsize=12, direction='out', length=4, pad=2)
axd.tick_params(axis='y', which='minor', direction='out', length=2)
axd.tick_params(axis='x', labelsize=12.5, direction='out', length=3, pad=3)
ov.text(969, 1612, 'Plasma Viremia at ART\nReinitiation (copies/ml)', fontsize=15, rotation=90,
        ha='center', va='center', multialignment='center', linespacing=1.05)

ov.text(941, 1498, 'd', fontsize=38, va='baseline')
ov.text(1154, 1494, r'$P$ = 0.82', fontsize=17, ha='center', va='center')
ov.plot([1090, 1199], [1511, 1511], color='k', lw=1.2)
ov.text(1306, 1548, 'Participant', fontsize=14, ha='center', va='center')
ov.plot([1257, 1360], [1562, 1562], color='k', lw=1.2)
rows_y = [1573.5, 1590.7, 1609, 1627.4, 1645.8, 1664.2]
for yy, i1, c1, i2, c2 in zip(rows_y, d_bnab_ids, d_bnab_col, d_pla_ids, d_pla_col):
    ov.plot(1262.5, yy, '^', ms=10, mfc=c1, mec='#333333', mew=0.5)
    ov.text(1275, yy, i1, fontsize=12, va='center')
    ov.plot(1317.6, yy, 'o', ms=10, mfc=c2, mec='#333333', mew=0.5)
    ov.text(1329, yy, i2, fontsize=12, va='center')
ov.plot([1253, 1281], [1690.6, 1690.6], color='#b4b4b4', lw=5.5, solid_capstyle='butt')
ov.text(1293, 1698, 'Geometric\nmean', fontsize=12, va='center', linespacing=0.95)

fig.savefig('out.png', dpi=100)
